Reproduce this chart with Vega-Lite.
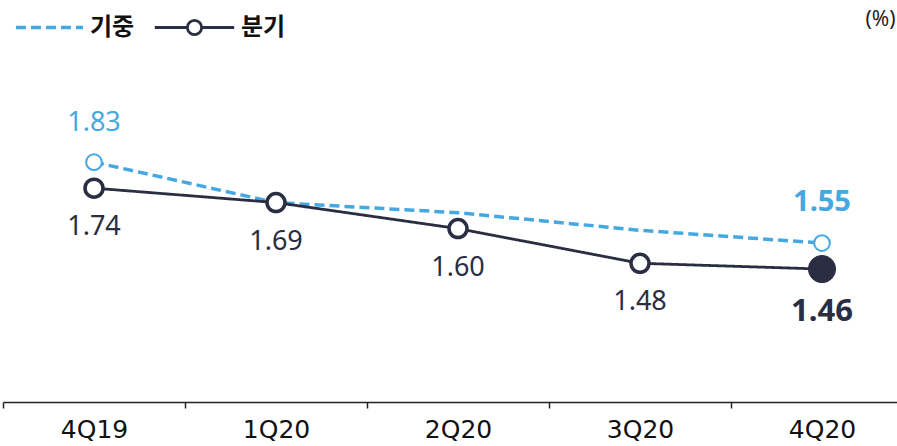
{
  "$schema": "https://vega.github.io/schema/vega-lite/v6.json",
  "autosize": "none",
  "width": 894,
  "height": 402,
  "padding": {"left": 3, "top": 0, "right": 0, "bottom": 44},
  "background": "white",
  "config": {"view": {"stroke": null}},
  "data": {
    "values": [
      {"q": "4Q19", "series": "기중", "value": 1.83},
      {"q": "1Q20", "series": "기중", "value": 1.69},
      {"q": "2Q20", "series": "기중", "value": 1.655},
      {"q": "3Q20", "series": "기중", "value": 1.594},
      {"q": "4Q20", "series": "기중", "value": 1.55},
      {"q": "4Q19", "series": "분기", "value": 1.74},
      {"q": "1Q20", "series": "분기", "value": 1.69},
      {"q": "2Q20", "series": "분기", "value": 1.60},
      {"q": "3Q20", "series": "분기", "value": 1.48},
      {"q": "4Q20", "series": "분기", "value": 1.46}
    ]
  },
  "encoding": {
    "x": {
      "field": "q", "type": "nominal", "sort": null,
      "scale": {"type": "band", "range": [0, 910], "paddingInner": 0, "paddingOuter": 0},
      "axis": {
        "title": null, "labelAngle": 0, "tickBand": "extent",
        "labelFont": "DejaVu Sans", "labelFontSize": 25, "labelFontWeight": "normal", "labelColor": "#111",
        "labelPadding": 9, "domainColor": "#222", "domainWidth": 1.5,
        "tickColor": "#222", "tickSize": 6, "tickWidth": 1.5, "grid": false
      }
    },
    "y": {
      "field": "value", "type": "quantitative",
      "scale": {"domain": [1.0, 2.391], "nice": false, "zero": false},
      "axis": {
        "orient": "right", "domain": false, "ticks": false, "labels": false, "grid": false,
        "title": "(%)", "titleAngle": 0, "titleX": -17, "titleY": 19,
        "titleAlign": "center", "titleBaseline": "middle",
        "titleFont": "Noto Sans", "titleFontSize": 21, "titleFontWeight": "normal", "titleColor": "#222"
      }
    }
  },
  "layer": [
    {
      "mark": {"type": "line", "strokeCap": "butt"},
      "encoding": {
        "color": {
          "field": "series", "type": "nominal",
          "scale": {"domain": ["기중", "분기"], "range": ["#45A8E0", "#2B2D42"]},
          "legend": {
            "title": null, "orient": "none", "direction": "horizontal", "values": ["기중"],
            "legendX": 11, "legendY": -8,
            "symbolType": "stroke", "symbolSize": 4500, "symbolStrokeWidth": 3.5, "symbolDash": [10, 5],
            "labelFont": "Noto Sans CJK KR", "labelFontSize": 24, "labelFontWeight": "bold",
            "labelColor": "#111", "labelOffset": 5
          }
        },
        "strokeDash": {
          "field": "series", "type": "nominal",
          "scale": {"domain": ["기중", "분기"], "range": [[10, 5], [1, 0]]},
          "legend": null
        },
        "strokeWidth": {
          "field": "series", "type": "nominal",
          "scale": {"domain": ["분기", "기중"], "range": [2.8, 3.5]},
          "legend": {
            "title": null, "orient": "none", "direction": "horizontal", "values": ["분기"],
            "legendX": 150, "legendY": -14,
            "symbolType": "M-1,0H-0.18M0.18,0H1M0.18,0A0.18,0.18,0,1,1,-0.18,0A0.18,0.18,0,1,1,0.18,0Z",
            "symbolSize": 6300, "symbolStrokeColor": "#2B2D42", "symbolFillColor": "white",
            "labelFont": "Noto Sans CJK KR", "labelFontSize": 24, "labelFontWeight": "bold",
            "labelColor": "#111", "labelOffset": 5
          }
        }
      }
    },
    {
      "transform": [{"filter": "datum.series == '기중' && (datum.q == '4Q19' || datum.q == '4Q20')"}],
      "mark": {"type": "point", "shape": "circle", "filled": true, "fill": "white", "stroke": "#45A8E0", "strokeWidth": 2, "size": 246, "opacity": 1}
    },
    {
      "transform": [{"filter": "datum.series == '분기' && datum.q != '4Q20'"}],
      "mark": {"type": "point", "shape": "circle", "filled": true, "fill": "white", "stroke": "#2B2D42", "strokeWidth": 3.5, "size": 324, "opacity": 1}
    },
    {
      "transform": [{"filter": "datum.series == '분기' && datum.q == '4Q20'"}],
      "mark": {"type": "point", "shape": "circle", "filled": true, "fill": "#2B2D42", "stroke": "#2B2D42", "strokeWidth": 1, "size": 740, "opacity": 1}
    },
    {
      "transform": [{"filter": "datum.series == '분기' && datum.q != '4Q20'"}],
      "mark": {"type": "text", "dy": 39, "font": "Noto Sans", "fontSize": 27, "color": "#2B2D42", "baseline": "middle"},
      "encoding": {"text": {"field": "value", "type": "quantitative", "format": ".2f"}}
    },
    {
      "transform": [{"filter": "datum.series == '분기' && datum.q == '4Q20'"}],
      "mark": {"type": "text", "dy": 43, "font": "Noto Sans", "fontSize": 31, "fontWeight": "bold", "color": "#2B2D42", "baseline": "middle"},
      "encoding": {"text": {"field": "value", "type": "quantitative", "format": ".2f"}}
    },
    {
      "transform": [{"filter": "datum.series == '기중' && datum.q == '4Q19'"}],
      "mark": {"type": "text", "dy": -39, "font": "Noto Sans", "fontSize": 27, "color": "#45A8E0", "baseline": "middle"},
      "encoding": {"text": {"field": "value", "type": "quantitative", "format": ".2f"}}
    },
    {
      "transform": [{"filter": "datum.series == '기중' && datum.q == '4Q20'"}],
      "mark": {"type": "text", "dy": -41, "font": "Noto Sans", "fontSize": 29, "fontWeight": "bold", "color": "#45A8E0", "baseline": "middle"},
      "encoding": {"text": {"field": "value", "type": "quantitative", "format": ".2f"}}
    }
  ]
}
